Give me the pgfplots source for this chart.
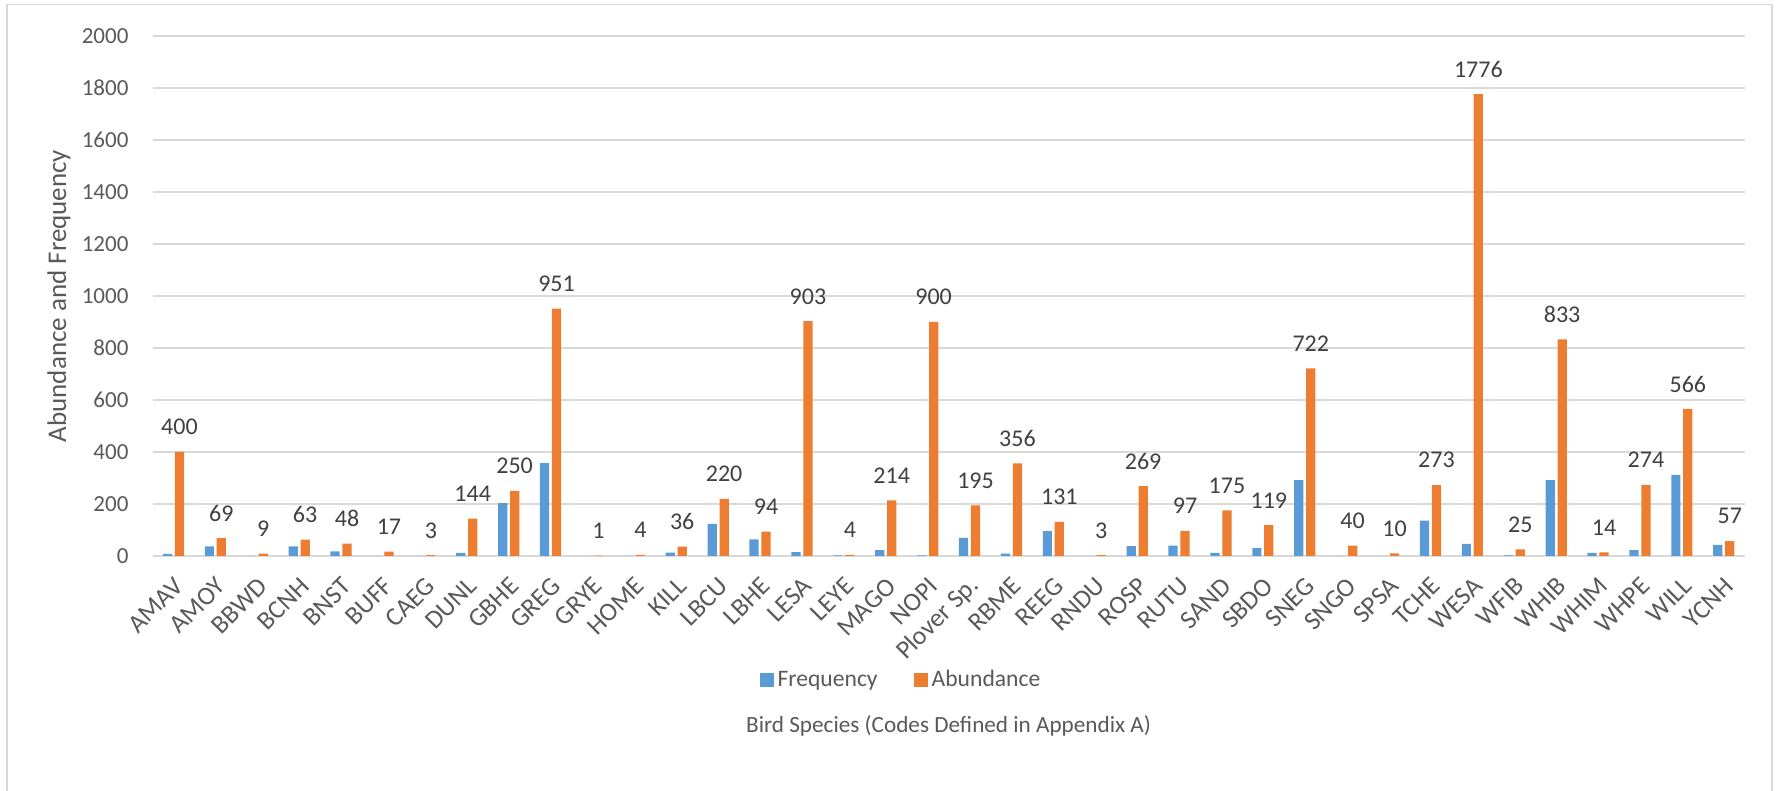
\documentclass[border=0pt]{standalone}
\usepackage{pgfplots}
\pgfplotsset{compat=1.18}
\usepackage{pgfplotstable}
\usepackage{fontspec}
\setmainfont{Carlito}
\definecolor{freq}{HTML}{5B9BD5}
\definecolor{abund}{HTML}{ED7D31}
\definecolor{gridc}{HTML}{D9D9D9}
\definecolor{txt}{HTML}{595959}
\definecolor{lbl}{HTML}{404040}
\pgfplotsset{/pgfplots/ybar legend/.style={/pgfplots/legend image code/.code={\fill[##1] (0pt,-3.5pt) rectangle (7pt,3.5pt);}}}
\pgfplotstableread{
x freq abund
0 8 400
1 37 69
2 0 9
3 37 63
4 18 48
5 0 17
6 0 3
7 12 144
8 203 250
9 357 951
10 0 1
11 0 4
12 13 36
13 124 220
14 64 94
15 15 903
16 2 4
17 23 214
18 2 900
19 70 195
20 9 356
21 96 131
22 0 3
23 38 269
24 40 97
25 12 175
26 31 119
27 292 722
28 0 40
29 0 10
30 136 273
31 47 1776
32 2 25
33 292 833
34 12 14
35 23 274
36 312 566
37 43 57
}\data
\begin{document}
\begin{tikzpicture}
\path[use as bounding box] (0,0) rectangle (889.5pt,395.5pt);
\draw[gridc, line width=0.6pt] (3.5pt,-2pt) -- (3.5pt,393.2pt) -- (886pt,393.2pt) -- (886pt,-2pt);
\begin{axis}[
  at={(76.25pt,117.5pt)}, anchor=south west,
  scale only axis, width=796.1pt, height=260pt,
  ybar, bar width=0.22,
  xmin=-0.5, xmax=37.5, ymin=0, ymax=2000,
  ytick={0,200,...,2000},
  xtick={0,...,37},
  xticklabels={AMAV,AMOY,BBWD,BCNH,BNST,BUFF,CAEG,DUNL,GBHE,GREG,GRYE,HOME,KILL,LBCU,LBHE,LESA,LEYE,MAGO,NOPI,Plover Sp.,RBME,REEG,RNDU,ROSP,RUTU,SAND,SBDO,SNEG,SNGO,SPSA,TCHE,WESA,WFIB,WHIB,WHIM,WHPE,WILL,YCNH},
  ymajorgrids, grid style={gridc, line width=0.7pt},
  axis line style={draw=none},
  major tick length=0pt,
  /pgf/number format/assume math mode=true,
  /pgf/number format/1000 sep={},
  ticklabel style={text=txt},
  yticklabel style={font=\fontsize{11.5}{13}\selectfont, xshift=-8.5pt},
  xticklabel style={font=\fontsize{13}{15}\selectfont, xshift=5.3pt, yshift=-10.5pt, rotate=45, anchor=east},
  ylabel={Abundance and Frequency},
  ylabel style={at={(axis description cs:0,0.5)}, anchor=center, yshift=46.75pt, font=\fontsize{13.5}{15}\selectfont, text=txt},
  xlabel={Bird Species (Codes Defined in Appendix A)},
  xlabel style={at={(axis description cs:0.5,0)}, anchor=center, yshift=-85pt, font=\fontsize{11.6}{14}\selectfont, text=txt},
  legend style={at={(axis description cs:0.4707,0)}, anchor=center, yshift=-62pt, draw=none, fill=none, legend columns=2, font=\fontsize{11.8}{14}\selectfont, text=txt, /tikz/every even column/.append style={column sep=16pt}},
]
\addplot[fill=freq, draw=none, bar shift=-0.143] table[x=x,y=freq]{\data};
\addplot[fill=abund, draw=none, bar shift=0.143, nodes near coords, nodes near coords style={anchor=center, yshift=12.4pt, font=\fontsize{12}{14}\selectfont, text=lbl}] table[x=x,y=abund]{\data};
\legend{Frequency, Abundance}
\end{axis}
\end{tikzpicture}
\end{document}
